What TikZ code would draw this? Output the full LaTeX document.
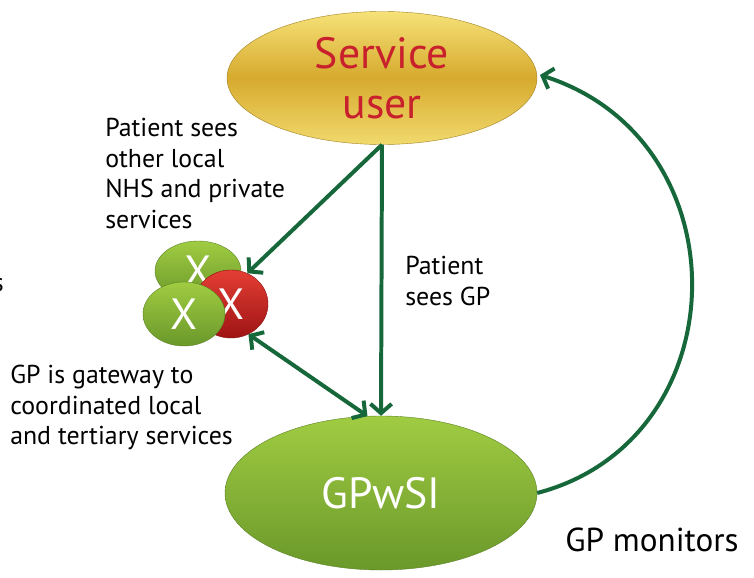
\documentclass[tikz,border=0pt]{standalone}
\usepackage{fontspec}
\setmainfont{PT Sans}
\usetikzlibrary{arrows.meta,shapes.geometric}

\definecolor{arrowgreen}{RGB}{22,104,58}
\definecolor{userred}{RGB}{200,32,44}
\definecolor{goldlight}{RGB}{246,226,120}
\definecolor{golddark}{RGB}{214,170,46}
\definecolor{greenlight}{RGB}{160,204,66}
\definecolor{greendark}{RGB}{106,152,42}
\definecolor{redlight}{RGB}{228,62,52}
\definecolor{reddark}{RGB}{158,20,20}

\def\px{0.0265cm}

\tikzset{
  blob/.style={ellipse, inner sep=0pt, text=white},
  goldblob/.style={blob, top color=goldlight, bottom color=goldlight!85!golddark, middle color=golddark, draw=golddark!75!black, line width=0.3pt},
  greenblob/.style={blob, top color=greenlight, bottom color=greendark, draw=greendark!85!black, line width=0.3pt},
  redblob/.style={blob, top color=redlight, bottom color=reddark, draw=reddark!85!black, line width=0.3pt},
  note/.style={inner sep=0pt, align=left, font=\fontsize{19.5}{23}\selectfont},
  flow/.style={draw=arrowgreen, line width=3pt, -{Straight Barb[length=7pt,width=16pt]}},
}

\begin{document}
\begin{tikzpicture}[x=\px, y=-\px]
    \useasboundingbox (0,0) rectangle (754,578);

    % the two big ellipses
    \node[goldblob, minimum width={310*\px}, minimum height={133*\px}, text=userred, align=center,
        font=\fontsize{33}{37.6}\selectfont] (user) at (382,78) {Service\\user};
    \node[greenblob, minimum width={312*\px}, minimum height={154*\px},
        font=\fontsize{33}{38}\selectfont] (gp) at (381,493) {GPwSI};

    % the three services
    \node[greenblob, minimum width={86*\px}, minimum height={60*\px},
        font=\fontsize{33}{34}\selectfont] (svcA) at (198,271) {X};
    \node[redblob, minimum width={74*\px}, minimum height={68*\px},
        font=\fontsize{33}{34}\selectfont] (svcB) at (231,304) {X};
    \node[greenblob, minimum width={82*\px}, minimum height={64*\px},
        font=\fontsize{33}{34}\selectfont] (svcC) at (184,314) {X};

    % arrows
    \draw[flow] (user.south) -- (svcB.62);
    \draw[flow] (user.south) -- (gp.north);
    \draw[flow, {Straight Barb[length=7pt,width=16pt]}-{Straight Barb[length=7pt,width=16pt]}] (svcB.-60) -- (gp.100);
    \coordinate (monitorend) at (540,75);
    \draw[flow] (gp.east) .. controls (740,440) and (745,140) .. (monitorend);

    % texts
    \node[note, anchor=north west] (seesother) at (105,118) {Patient sees\\other local\\NHS and private\\services};
    \node[note, anchor=north west] (seesgp) at (405,256) {Patient\\sees GP};
    \node[note, anchor=north west] (gateway) at (10,365) {GP is gateway to\\coordinated local\\and tertiary services};
    \node[note, anchor=north west, font=\fontsize{25}{28}\selectfont] (monitors) at (565,528) {GP monitors};
    \node[note, anchor=north east] (cutoff) at (4,278) {s};
\end{tikzpicture}
\end{document}
